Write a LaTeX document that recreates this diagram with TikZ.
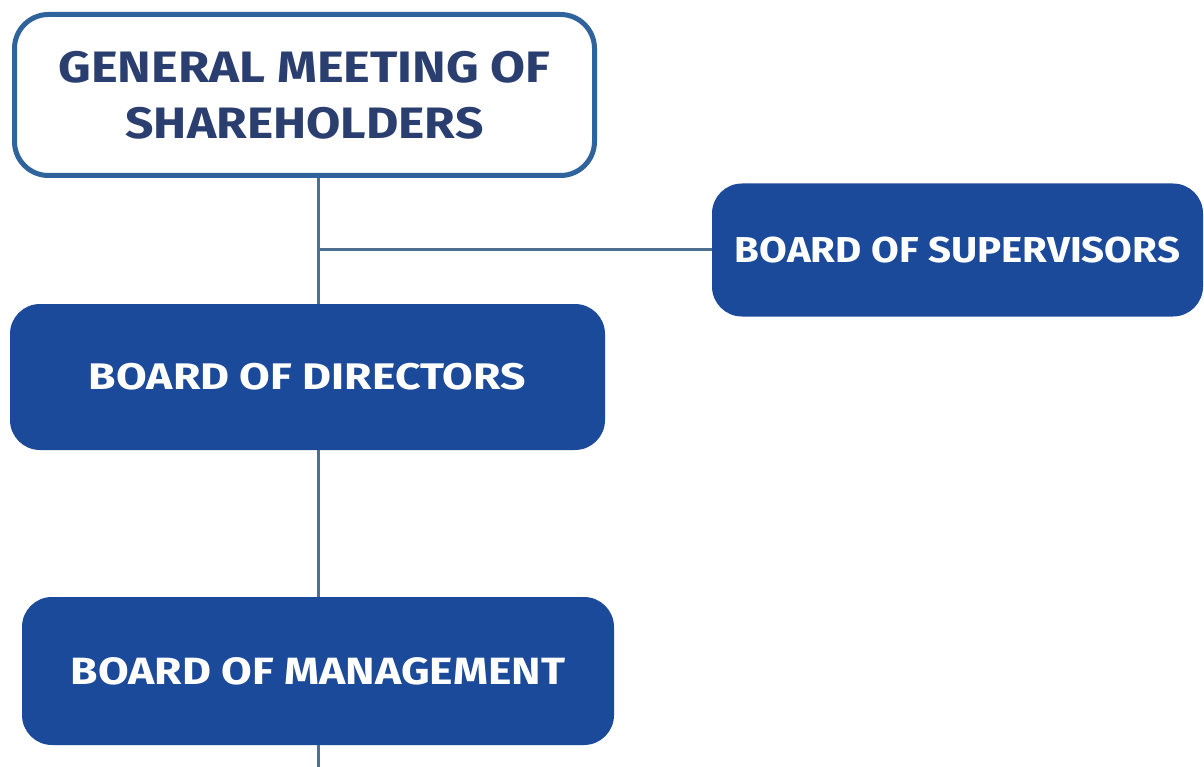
\documentclass[tikz,border=0pt]{standalone}
\usepackage{fontspec}
\setmainfont{Fira Sans}
\usepackage{graphicx}
\definecolor{boxblue}{HTML}{1C4A9A}
\definecolor{edgeblue}{HTML}{2F639C}
\definecolor{textnavy}{HTML}{2A3F6F}
\definecolor{linkgrey}{HTML}{4F6F90}
\tikzset{
  gmbox/.style={draw=edgeblue, line width=5pt, fill=white, rounded corners=34pt,
    inner sep=0pt, align=center, text=textnavy,
    font=\fontsize{44}{56}\selectfont\bfseries},
  fillbox/.style={fill=boxblue, rounded corners=30pt, inner sep=0pt,
    text=white, font=\bfseries},
  link/.style={draw=linkgrey, line width=3pt}
}
\newcommand{\fitto}[3]{{\fontsize{#1}{#1}\selectfont\resizebox{#2pt}{\height}{#3}}}
\newcommand{\fitw}[2]{\resizebox{#1pt}{\height}{#2}}
\begin{document}
\begin{tikzpicture}[x=1pt,y=-1pt]
\useasboundingbox[fill=white] (0,0) rectangle (1204,767);
\node[gmbox, minimum width=580pt, minimum height=161pt] (gm) at (304.5,95)
  {\fitw{492}{GENERAL MEETING OF}\\\fitw{358}{SHAREHOLDERS}};
\node[fillbox, minimum width=491pt, minimum height=133pt] (sup) at (957.5,250)
  {\fitto{36}{445}{BOARD OF SUPERVISORS}};
\node[fillbox, minimum width=595pt, minimum height=146pt] (dir) at (307.5,377)
  {\fitto{37}{437}{BOARD OF DIRECTORS}};
\node[fillbox, minimum width=592pt, minimum height=148pt] (mg) at (318,671)
  {\fitto{38}{494}{BOARD OF MANAGEMENT}};
\coordinate (jn) at (318,250);
\coordinate (end) at (318,767);
\draw[link] (gm.south -| mg.north) -- (dir.north -| mg.north);
\draw[link] (jn) -- (sup.west);
\draw[link] (dir.south -| mg.north) -- (mg.north);
\draw[link] (mg.south) -- (end);
\end{tikzpicture}
\end{document}
